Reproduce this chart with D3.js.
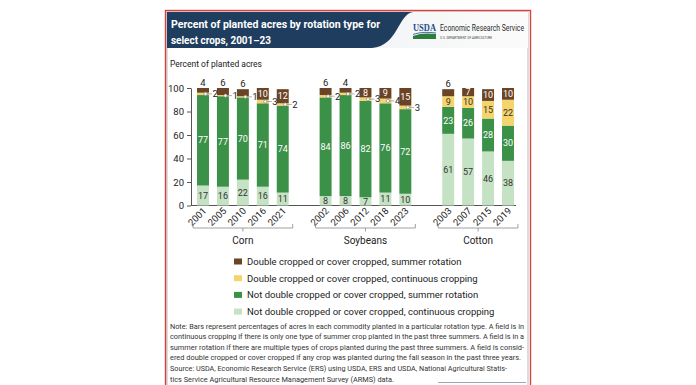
<!DOCTYPE html>
<html>
<head>
<meta charset="utf-8">
<script src="https://cdn.jsdelivr.net/npm/d3@7"></script>
<style>
  html, body { margin: 0; padding: 0; background: #fff; }
  svg { display: block; font-family: Roboto, "Noto Sans", sans-serif; }
</style>
</head>
<body>
<svg id="chart" width="696" height="385"></svg>
<script>
// ---------------- DATA ----------------
const groups = ["Corn", "Soybeans", "Cotton"];
const years = {
  Corn: ["2001", "2005", "2010", "2016", "2021"],
  Soybeans: ["2002", "2006", "2012", "2018", "2023"],
  Cotton: ["2003", "2007", "2015", "2019"]
};
// series values, bottom to top
const notDoubleContinuous = { Corn: [17, 16, 22, 16, 11], Soybeans: [8, 8, 7, 11, 10], Cotton: [61, 57, 46, 38] };
const notDoubleRotation   = { Corn: [77, 77, 70, 71, 74], Soybeans: [84, 86, 82, 76, 72], Cotton: [23, 26, 28, 30] };
const doubleContinuous    = { Corn: [2, 1, 1, 3, 2],      Soybeans: [2, 2, 3, 4, 3],      Cotton: [9, 10, 15, 22] };
const doubleRotation      = { Corn: [4, 6, 6, 10, 12],    Soybeans: [6, 4, 8, 9, 15],     Cotton: [6, 7, 10, 10] };
const seriesNames = [
  "Not double cropped or cover cropped, continuous cropping",
  "Not double cropped or cover cropped, summer rotation",
  "Double cropped or cover cropped, continuous cropping",
  "Double cropped or cover cropped, summer rotation"
];
const seriesData = [notDoubleContinuous, notDoubleRotation, doubleContinuous, doubleRotation];
const yTicks = [0, 20, 40, 60, 80, 100];
const titleLines = ["Percent of planted acres by rotation type for", "select crops, 2001\u201323"];
const yAxisTitle = "Percent of planted acres";
const noteLines = [
  "Note: Bars represent percentages of acres in each commodity planted in a particular rotation type. A field is in",
  "continuous cropping if there is only one type of summer crop planted in the past three summers. A field is in a",
  "summer rotation if there are multiple types of crops planted during the past three summers. A field is consid-",
  "ered double cropped or cover cropped if any crop was planted during the fall season in the past three years."
];
const sourceLines = [
  "Source: USDA, Economic Research Service (ERS) using USDA, ERS and USDA, National Agricultural Statis-",
  "tics Service Agricultural Resource Management Survey (ARMS) data."
];

// ---------------- STYLE ----------------
const colors = ["#c6e2c4", "#3b9148", "#f6d46c", "#6b4426"];
const labelColors = ["#333", "#fff", "#333", "#fff"];

// ---------------- BUILD ROWS ----------------
const gapSlots = 1.15;
const rows = [];
let idx = 0;
groups.forEach((g, gi) => {
  years[g].forEach((yr, i) => {
    const vals = seriesData.map(s => s[g][i]);
    let acc = 0;
    const segs = vals.map((v, k) => { const s = { k, v, y0: acc, y1: acc + v }; acc += v; return s; });
    rows.push({ group: g, gi, year: yr, slot: idx + gi * gapSlots, segs });
    idx++;
  });
});

const svg = d3.select("#chart");

// ---------------- FRAME & HEADER ----------------
svg.append("rect").attr("x", 167).attr("y", 12).attr("width", 361).attr("height", 380)
  .attr("fill", "#fff").attr("stroke", "#a7a7a7").attr("stroke-width", 0.8);
const grad = svg.append("defs").append("linearGradient").attr("id", "hdr").attr("x1", 0).attr("x2", 1);
grad.append("stop").attr("offset", 0).attr("stop-color", "#e9ecef");
grad.append("stop").attr("offset", 1).attr("stop-color", "#fbfbfb");
svg.append("rect").attr("x", 167).attr("y", 12).attr("width", 361).attr("height", 36).attr("fill", "url(#hdr)");
svg.append("path")
  .attr("d", "M167,12 H413 C398,14 398,46 372,48 H167 Z")
  .attr("fill", "#1f3d5e");
svg.append("rect").attr("x", 165.5).attr("y", 10.5).attr("width", 365).attr("height", 400)
  .attr("fill", "none").attr("stroke", "#d8403a").attr("stroke-width", 1.4);

titleLines.forEach((t, i) => {
  svg.append("text").attr("x", 171).attr("y", 28 + i * 15.5)
    .attr("fill", "#fff").attr("font-size", 11.5).attr("font-weight", 700)
    .attr("textLength", i === 0 ? 209 : 100).attr("lengthAdjust", "spacingAndGlyphs")
    .text(t);
});
// USDA logo
svg.append("text").attr("x", 413).attr("y", 31).attr("fill", "#1c4e8d").attr("font-size", 10)
  .attr("font-weight", 700).attr("textLength", 23).attr("lengthAdjust", "spacingAndGlyphs")
  .attr("font-family", "'Liberation Serif', serif").text("USDA");
svg.append("path").attr("d", "M413,36 C420,33 428,33 436,34 L436,39 L413,39 Z").attr("fill", "#2f7d3a");
svg.append("path").attr("d", "M413,34.5 C420,32 428,32 436,33").attr("fill", "none").attr("stroke", "#1c4e8d").attr("stroke-width", 0.8);
svg.append("text").attr("x", 440).attr("y", 31).attr("fill", "#2b2b2b").attr("font-size", 9)
  .attr("textLength", 84).attr("lengthAdjust", "spacingAndGlyphs").text("Economic Research Service");
svg.append("text").attr("x", 440).attr("y", 38.5).attr("fill", "#444").attr("font-size", 3.8)
  .attr("textLength", 52).attr("lengthAdjust", "spacingAndGlyphs").text("U.S. DEPARTMENT OF AGRICULTURE");

svg.append("text").attr("x", 170).attr("y", 67).attr("fill", "#222").attr("font-size", 9.5)
  .attr("textLength", 92).attr("lengthAdjust", "spacingAndGlyphs").text(yAxisTitle);

// ---------------- SCALES ----------------
const maxSlot = d3.max(rows, d => d.slot);
const x = d3.scaleLinear().domain([0, maxSlot]).range([203, 508]);
const step = (x(1) - x(0));
const barW = step * 0.6;
const y = d3.scaleLinear().domain([0, 100]).range([205.5, 88]);

// Y axis
const yAxis = svg.append("g").attr("transform", "translate(191,0)")
  .call(d3.axisLeft(y).tickValues(yTicks).tickSize(4).tickSizeOuter(0).tickPadding(3));
yAxis.select(".domain").attr("stroke", "#555");
yAxis.selectAll(".tick line").attr("stroke", "#555");
yAxis.selectAll(".tick text").attr("fill", "#222").attr("font-size", 9.5).attr("font-family", "Roboto, sans-serif");

// baseline
svg.append("line").attr("x1", 191).attr("x2", x(maxSlot) + barW / 2 + 2)
  .attr("y1", y(0)).attr("y2", y(0)).attr("stroke", "#555").attr("stroke-width", 1);

// ---------------- BARS ----------------
const barG = svg.append("g");
const bars = barG.selectAll("g.bar").data(rows).join("g").attr("class", "bar");
bars.selectAll("rect").data(d => d.segs.map(s => ({ ...s, row: d }))).join("rect")
  .attr("x", d => x(d.row.slot) - barW / 2)
  .attr("width", barW)
  .attr("y", d => y(d.y1))
  .attr("height", d => y(d.y0) - y(d.y1))
  .attr("fill", d => colors[d.k]);

// labels
rows.forEach(r => {
  const cx = x(r.slot);
  r.segs.forEach(s => {
    const mid = y((s.y0 + s.y1) / 2);
    if (s.k === 3 && s.v < 7) {
      svg.append("text").attr("x", cx).attr("y", y(s.y1) - 2.5).attr("text-anchor", "middle")
        .attr("font-size", 9.5).attr("fill", "#222").text(s.v);
    } else if (s.k === 2 && s.v < 5) {
      const cxx = cx + 2.5;
      svg.append("line").attr("x1", cxx).attr("x2", cx + barW / 2 + 3).attr("y1", mid).attr("y2", mid)
        .attr("stroke", "#888").attr("stroke-width", 0.7);
      svg.append("circle").attr("cx", cxx).attr("cy", mid).attr("r", 1.6)
        .attr("fill", "#fff").attr("stroke", "#888").attr("stroke-width", 0.7);
      svg.append("text").attr("x", cx + barW / 2 + 3.5).attr("y", mid + 3.3)
        .attr("font-size", 9.5).attr("fill", "#222").text(s.v);
    } else {
      svg.append("text").attr("x", cx).attr("y", mid + 3.2).attr("text-anchor", "middle")
        .attr("font-size", 9).attr("fill", labelColors[s.k]).text(s.v);
    }
  });
  // year tick label
  svg.append("text").attr("text-anchor", "end").attr("font-size", 9.5).attr("fill", "#222")
    .attr("transform", `translate(${cx + 4},${y(0) + 6}) rotate(-45)`).text(r.year);
});

// group brackets
groups.forEach(g => {
  const gr = rows.filter(r => r.group === g);
  const x0 = x(gr[0].slot) - step / 2, x1 = x(gr[gr.length - 1].slot) + step / 2;
  const by = 228;
  svg.append("path").attr("d", `M${x0},${by - 4} V${by} H${x1} V${by - 4} M${(x0 + x1) / 2},${by} V${by + 3.5}`)
    .attr("fill", "none").attr("stroke", "#888").attr("stroke-width", 0.8);
  svg.append("text").attr("x", (x0 + x1) / 2).attr("y", 244).attr("text-anchor", "middle")
    .attr("font-size", 10).attr("fill", "#222").text(g);
});

// ---------------- LEGEND ----------------
const legendOrder = [3, 2, 1, 0];
legendOrder.forEach((k, i) => {
  const ly = 261.5 + i * 16.7;
  svg.append("rect").attr("x", 234).attr("y", ly - 3).attr("width", 8).attr("height", 6).attr("fill", colors[k]);
  svg.append("text").attr("x", 247).attr("y", ly + 3.3).attr("font-size", 9.5).attr("fill", "#222")
    .text(seriesNames[k]);
});

// ---------------- NOTES ----------------
const noteLens = [354, 354, 354, 351];
noteLines.forEach((t, i) => {
  svg.append("text").attr("x", 170).attr("y", 328.5 + i * 10.6).attr("font-size", 7.6).attr("fill", "#333")
    .attr("textLength", noteLens[i]).attr("lengthAdjust", "spacingAndGlyphs").text(t);
});
const srcLens = [337, 224];
sourceLines.forEach((t, i) => {
  svg.append("text").attr("x", 170).attr("y", 371 + i * 10.6).attr("font-size", 7.6).attr("fill", "#333")
    .attr("textLength", srcLens[i]).attr("lengthAdjust", "spacingAndGlyphs").text(t);
});
svg.append("line").attr("x1", 438).attr("x2", 526).attr("y1", 382.5).attr("y2", 382.5)
  .attr("stroke", "#9aa6b2").attr("stroke-width", 1);
</script>
</body>
</html>
